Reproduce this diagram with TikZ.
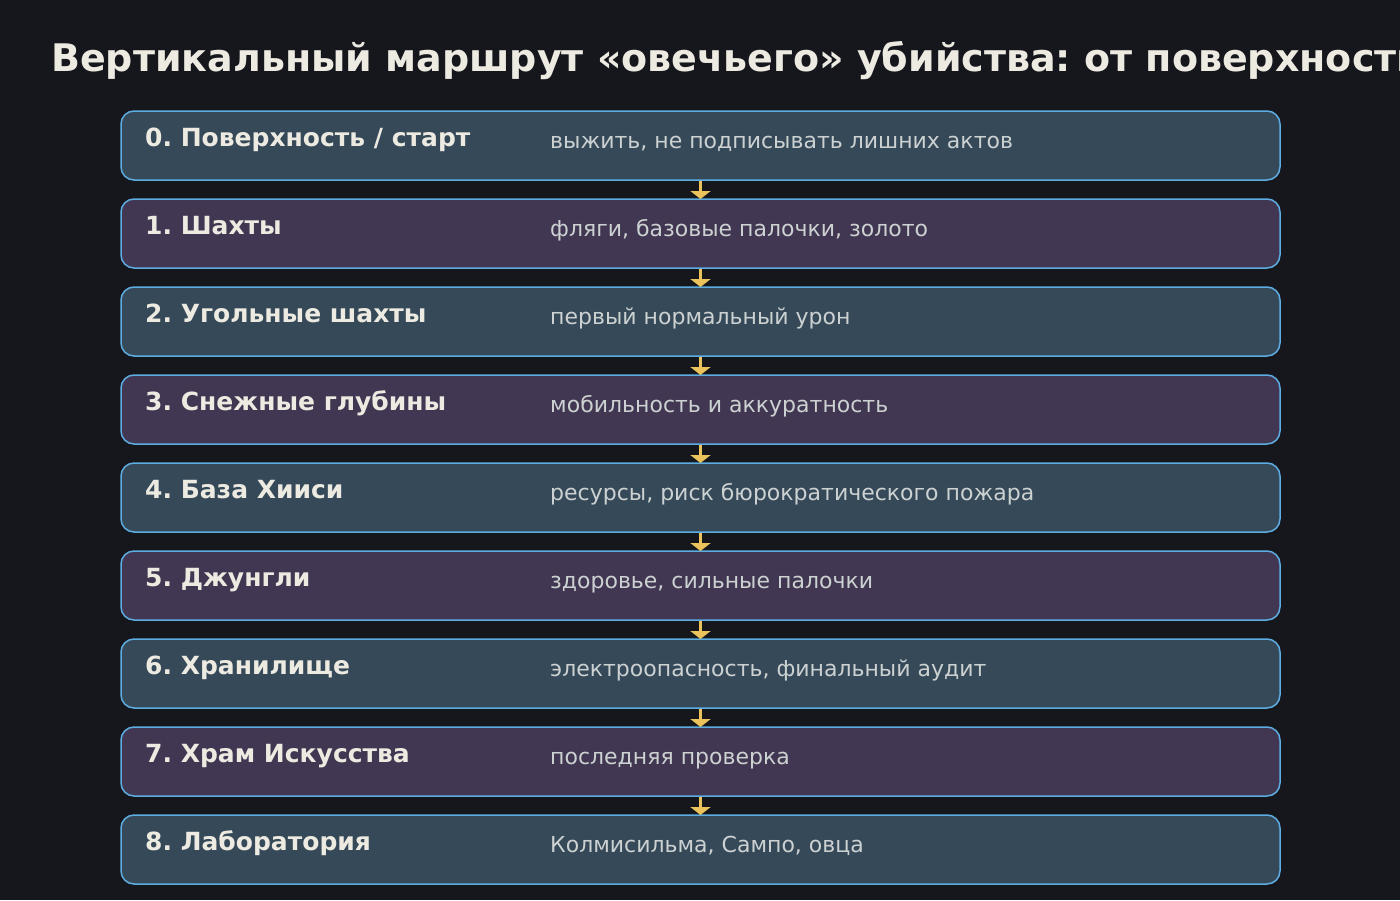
\documentclass[tikz,border=0pt]{standalone}
\usepackage{fontspec}
\setmainfont{DejaVu Sans}
\usetikzlibrary{arrows.meta}
\frenchspacing
\definecolor{bgc}{HTML}{15171C}
\definecolor{slatec}{HTML}{364959}
\definecolor{purplec}{HTML}{423752}
\definecolor{edgec}{HTML}{5DADE2}
\definecolor{labelc}{HTML}{ECEAE1}
\definecolor{descc}{HTML}{CCD1D1}
\definecolor{arrc}{HTML}{EAC45A}
\tikzset{
  stagebox/.style={draw=edgec, line width=1.5pt, rounded corners=13pt,
    minimum width=1159pt, minimum height=69pt, inner sep=0pt, outer sep=0pt},
  slatebox/.style={stagebox, fill=slatec},
  purplebox/.style={stagebox, fill=purplec},
  stagelabel/.style={anchor=base west, inner sep=0pt, text=labelc,
    font=\fontsize{25}{30}\selectfont\bfseries},
  stagedesc/.style={anchor=base west, inner sep=0pt, text=descc,
    font=\fontsize{22}{26}\selectfont},
  flow/.style={draw=arrc, line width=3pt, shorten <=1pt,
    -{Triangle[width=20pt,length=8pt]}},
  titletext/.style={anchor=base west, inner sep=0pt, text=labelc,
    font=\fontsize{38}{44}\selectfont\bfseries}
}
\begin{document}
\begin{tikzpicture}[x=1pt,y=-1pt]
\useasboundingbox (0,0) rectangle (1400,900);
\fill[bgc] (0,0) rectangle (1400,900);
\begin{scope}
\clip (0,0) rectangle (1400,900);
\node[titletext] (title) at (51,71) {Вертикальный маршрут «овечьего» убийства: от поверхности до лаборатории};
\end{scope}
\node[slatebox]  (b0) at (700.5,145.5) {};
\node[purplebox] (b1) at (700.5,233.5) {};
\node[slatebox]  (b2) at (700.5,321.5) {};
\node[purplebox] (b3) at (700.5,409.5) {};
\node[slatebox]  (b4) at (700.5,497.5) {};
\node[purplebox] (b5) at (700.5,585.5) {};
\node[slatebox]  (b6) at (700.5,673.5) {};
\node[purplebox] (b7) at (700.5,761.5) {};
\node[slatebox]  (b8) at (700.5,849.5) {};
\node[stagelabel] (l0) at (145,146) {0. Поверхность / старт};
\node[stagelabel] (l1) at (145,234) {1. Шахты};
\node[stagelabel] (l2) at (145,322) {2. Угольные шахты};
\node[stagelabel] (l3) at (145,410) {3. Снежные глубины};
\node[stagelabel] (l4) at (145,498) {4. База Хииси};
\node[stagelabel] (l5) at (145,586) {5. Джунгли};
\node[stagelabel] (l6) at (145,674) {6. Хранилище};
\node[stagelabel] (l7) at (145,762) {7. Храм Искусства};
\node[stagelabel] (l8) at (145,850) {8. Лаборатория};
\node[stagedesc] (d0) at (550,148) {выжить, не подписывать лишних актов};
\node[stagedesc] (d1) at (550,236) {фляги, базовые палочки, золото};
\node[stagedesc] (d2) at (550,324) {первый нормальный урон};
\node[stagedesc] (d3) at (550,412) {мобильность и аккуратность};
\node[stagedesc] (d4) at (550,500) {ресурсы, риск бюрократического пожара};
\node[stagedesc] (d5) at (550,588) {здоровье, сильные палочки};
\node[stagedesc] (d6) at (550,676) {электроопасность, финальный аудит};
\node[stagedesc] (d7) at (550,764) {последняя проверка};
\node[stagedesc] (d8) at (550,852) {Колмисильма, Сампо, овца};
\foreach \a/\b in {b0/b1,b1/b2,b2/b3,b3/b4,b4/b5,b5/b6,b6/b7,b7/b8}
  \draw[flow] (\a.south) -- (\b.north);
\end{tikzpicture}
\end{document}
